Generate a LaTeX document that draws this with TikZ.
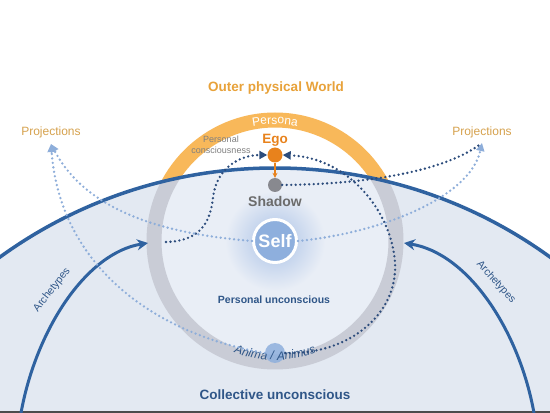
\documentclass[tikz,border=0pt]{standalone}
\usepackage{fontspec}
\setmainfont{Liberation Sans}
\usetikzlibrary{arrows.meta,decorations.text}

\definecolor{collfill}{HTML}{E3E9F2}
\definecolor{innerfill}{HTML}{E9EEF6}
\definecolor{arcblue}{HTML}{2F62A0}
\definecolor{textblue}{HTML}{2F5688}
\definecolor{dotdark}{HTML}{2C4C7C}
\definecolor{dotlight}{HTML}{8EAEDA}
\definecolor{ringgray}{HTML}{C9CCD6}
\definecolor{ringorange}{HTML}{F8B85A}
\definecolor{titleorange}{HTML}{E8A23A}
\definecolor{projorange}{HTML}{D6A24E}
\definecolor{egoorange}{HTML}{E8821C}
\definecolor{shadowgray}{HTML}{88898F}
\definecolor{selfblue}{HTML}{8EAFDD}
\definecolor{glowblue}{HTML}{A9C1E6}

\begin{document}
\begin{tikzpicture}[x=1pt,y=1pt,
    dotline/.style={line width=2.6pt, line cap=round, dash pattern=on 0pt off 4.5pt},
    darkdots/.style={dotline, dotdark},
    lightdots/.style={dotline, dotlight},
    dottip/.style={-{Triangle[length=8pt,width=8pt]}},
    archarrow/.style={line width=3pt, arcblue, -{Stealth[length=11pt,width=11pt]}},
    dot/.style={circle, inner sep=0pt}]
                \useasboundingbox (0,0) rectangle (550,413);
                \fill[white] (0,0) rectangle (550,413);
                \coordinate (bigc) at (275,-224);
                \coordinate (selfc) at (275,172);

                % Draw the persona ring, the collective area and the inner ring
                \begin{scope}
                    \clip (0,0) rectangle (550,413);
                    \draw[ringorange, line width=15pt] (selfc) circle (121);
                    \fill[collfill] (bigc) circle (469);
                    \begin{scope}
                        \clip (bigc) circle (469);
                        \fill[innerfill] (selfc) circle (114);
                        \shade[inner color=glowblue, outer color=innerfill] (selfc) circle (50);
                        \draw[ringgray, line width=15pt] (selfc) circle (121);
                    \end{scope}
                    \draw[arcblue, line width=3.5pt] (bigc) circle (469);
                \end{scope}
                \draw[black!70, line width=2pt] (0,1) -- (550,1);

                % Persona and Anima / Animus along the ring
                \path[decorate, decoration={text along path, text align=center,
                    text={|\color{white}\fontsize{12}{12}\selectfont|Persona}}]
                    (selfc) ++(125:117) arc[start angle=125, end angle=55, radius=117];

                % Name the nodes
                \node[dot, fill=selfblue, draw=white, line width=3pt, minimum size=43pt,
                    text=white, font=\bfseries\fontsize{18}{18}\selectfont] (self) at (selfc) {Self};
                \node[dot, fill=egoorange, minimum size=15pt] (ego) at (275,258) {};
                \node[dot, fill=shadowgray, minimum size=14pt] (shadow) at (275,228) {};
                \node[dot, fill=selfblue, opacity=0.85, minimum size=20pt] (anima) at (275,60) {};
                \coordinate (projL) at (51,269);
                \coordinate (projR) at (482,270);
                \coordinate (innerL) at (166,171);
                \coordinate (archLstart) at (21,0);
                \coordinate (archLend) at (148,170);
                \coordinate (archRstart) at (534,0);
                \coordinate (archRend) at (404,170);

                \path[decorate, decoration={text along path, text align=center,
                    text={|\color{textblue}\itshape\fontsize{12}{12}\selectfont|Anima / Animus}}]
                    (selfc) ++(235:119) arc[start angle=235, end angle=305, radius=119];

                % Texts
                \node[text=titleorange, font=\bfseries\fontsize{13.5}{16}\selectfont] (world) at (276,325) {Outer physical World};
                \node[text=projorange, font=\fontsize{12}{14}\selectfont] (projLtext) at (51,281) {Projections};
                \node[text=projorange, font=\fontsize{12}{14}\selectfont] (projRtext) at (482,281) {Projections};
                \node[text=egoorange, font=\bfseries\fontsize{13.5}{16}\selectfont] (egotext) at (275,273) {Ego};
                \node[text=black!50, font=\fontsize{9}{11}\selectfont, align=center] (conscious) at (221,268) {Personal\\consciousness};
                \node[text=black!58, font=\bfseries\fontsize{14}{16}\selectfont] (shadowtext) at (275,212) {Shadow};
                \node[text=textblue, font=\bfseries\fontsize{10.5}{12}\selectfont] (personal) at (274,113) {Personal unconscious};
                \node[text=textblue, font=\bfseries\fontsize{13.5}{16}\selectfont] (collective) at (275,18) {Collective unconscious};
                \node[text=textblue, font=\fontsize{10.5}{12}\selectfont, rotate=52] (archLtext) at (52,123) {Archetypes};
                \node[text=textblue, font=\fontsize{10.5}{12}\selectfont, rotate=-48] (archRtext) at (496,131) {Archetypes};

                % Archetypes arrows
                \draw[archarrow] (archLstart) .. controls (36,83) and (86,160) .. (archLend);
                \draw[archarrow] (archRstart) .. controls (519,83) and (468,160) .. (archRend);

                % Ego to shadow
                \draw[egoorange, line width=1.2pt, -{Stealth[length=5pt,width=5pt]}] (ego) -- (shadow);

                % Dotted paths
                \draw[darkdots, dottip] (innerL) .. controls (200,172) and (210,190) .. (213,215)
                    .. controls (216,245) and (240,258) .. (ego.west);
                \draw[darkdots, dottip] (anima.east) .. controls (350,58) and (398,100) .. (395,150)
                    .. controls (392,200) and (350,255) .. (ego.east);
                \draw[darkdots] (shadow.east) .. controls (380,229) and (450,245) .. (projR);
                \draw[lightdots, dottip] (self.east) .. controls (380,180) and (470,215) .. (projR);
                \draw[lightdots, dottip] (self.west) .. controls (180,178) and (90,195) .. (projL);
                \draw[lightdots, dottip] (anima.west) .. controls (150,80) and (60,150) .. (projL);
\end{tikzpicture}
\end{document}
